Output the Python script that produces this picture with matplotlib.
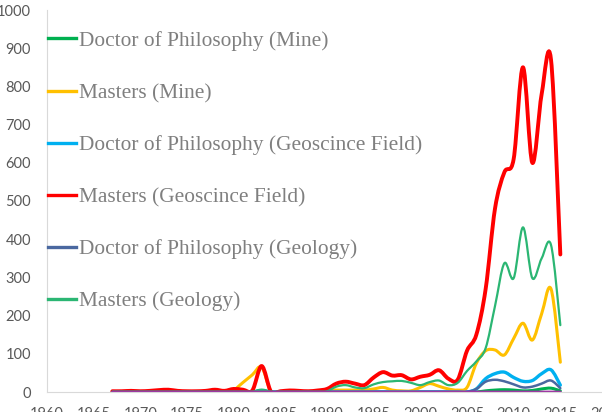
import matplotlib
matplotlib.use("Agg")
import matplotlib.pyplot as plt
from matplotlib.path import Path
from matplotlib.patches import PathPatch
from matplotlib.lines import Line2D

years = list(range(1967, 2016))

# one value per year, 1967..2015
phd_mine = [0, 0, 0, 0, 0, 0, 0, 0, 0, 0, 0, 0, 0, 0, 0, 0, 5, 0, 0, 0,
            0, 0, 0, 0, 0, 0, 0, 0, 0, 0, 0, 0, 0, 0, 0, 0, 0, 0, 0, 0,
            3, 5, 6, 5, 3, 4, 8, 10, 3]
masters_mine = [0, 0, 0, 0, 0, 0, 0, 0, 0, 0, 0, 0, 0, 5, 25, 45, 65, 0, 1, 1,
                1, 1, 1, 5, 5, 5, 5, 5, 8, 12, 5, 3, 3, 12, 22, 15, 8, 5, 12, 75,
                108, 110, 97, 140, 180, 136, 205, 270, 78]
phd_geosc = [0, 0, 0, 0, 0, 0, 0, 0, 0, 0, 0, 0, 0, 0, 0, 0, 3, 0, 0, 0,
             0, 0, 0, 0, 0, 0, 0, 0, 0, 0, 0, 0, 0, 0, 0, 0, 0, 0, 0, 8,
             35, 48, 52, 38, 28, 30, 48, 58, 18]
masters_geosc = [2, 2, 3, 2, 3, 5, 6, 3, 2, 2, 3, 6, 3, 8, 6, 4, 68, 1, 2, 4,
                 3, 2, 4, 8, 22, 27, 22, 18, 38, 52, 43, 44, 33, 40, 45, 57, 35, 32, 108, 150,
                 270, 480, 575, 610, 850, 600, 780, 870, 360]
phd_geology = [0, 0, 0, 0, 0, 0, 0, 0, 0, 0, 0, 0, 0, 0, 0, 0, 0, 0, 0, 0,
               0, 0, 0, 0, 0, 0, 0, 0, 0, 0, 0, 0, 0, 0, 0, 0, 0, 0, 0, 8,
               27, 32, 28, 20, 12, 14, 22, 30, 10]
masters_geology = [1, 1, 1, 1, 1, 1, 1, 1, 1, 1, 1, 1, 1, 1, 1, 1, 5, 1, 1, 1,
                   1, 1, 1, 2, 14, 18, 12, 10, 20, 26, 28, 29, 24, 18, 26, 30, 18, 24, 55, 80,
                   115, 225, 337, 298, 431, 298, 350, 385, 175]
other = [0] * len(years)

labels = ["Doctor of Philosophy (Mine)", "Masters (Mine)",
          "Doctor of Philosophy (Geoscince Field)", "Masters (Geoscince Field)",
          "Doctor of Philosophy (Geology)", "Masters (Geology)"]
series = [phd_mine, masters_mine, phd_geosc, masters_geosc, phd_geology, masters_geology]
colors = ["#00b050", "#ffc000", "#00b0f0", "#ff0000", "#4a68a0", "#2bb673"]
widths = [2.2, 2.2, 2.4, 2.8, 1.8, 1.6]

x_ticks = list(range(1960, 2021, 5))
y_ticks = list(range(0, 1001, 100))


def smooth(ax, x, y, color, lw):
    # excel-like smoothed line: cubic bezier through every point
    n = len(x)
    verts = [(x[0], y[0])]
    codes = [Path.MOVETO]
    for i in range(n - 1):
        a = i - 1 if i > 0 else i
        d = i + 2 if i + 2 < n else i + 1
        c1 = (x[i] + (x[i + 1] - x[a]) / 6, y[i] + (y[i + 1] - y[a]) / 6)
        c2 = (x[i + 1] - (x[d] - x[i]) / 6, y[i + 1] - (y[d] - y[i]) / 6)
        verts += [c1, c2, (x[i + 1], y[i + 1])]
        codes += [Path.CURVE4] * 3
    ax.add_patch(PathPatch(Path(verts, codes), fill=False, edgecolor=color,
                           lw=lw, capstyle="round", joinstyle="round"))


fig = plt.figure(figsize=(6.02, 4.12), dpi=100)
ax = fig.add_axes([47 / 602, 1 - 392 / 412, 560 / 602, 382 / 412])

for s, c, w in zip(series, colors, widths):
    smooth(ax, years, s, c, w)
smooth(ax, years, other, "#9b30a0", 2.0)

ax.set_xlim(1960, 2020)
ax.set_ylim(0, 1000)
ax.set_xticks(x_ticks)
ax.set_yticks(y_ticks)
ax.tick_params(length=0, labelsize=10.5, colors="#595959", labelfontfamily="Lato")
ax.tick_params(axis="y", pad=11.5)
ax.tick_params(axis="x", pad=11)
for side in ["top", "right"]:
    ax.spines[side].set_visible(False)
ax.spines["left"].set_color("#d9d9d9")
ax.spines["bottom"].set_color("#d9d9d9")

handles = [Line2D([], [], color=c, lw=2.4) for c in colors]
ax.legend(handles, labels, loc="upper left", bbox_to_anchor=(0.002, 0.945),
          frameon=False, borderpad=0, borderaxespad=0, handlelength=1.3,
          handletextpad=0.15, labelspacing=1.5, labelcolor="#7f7f7f",
          prop={"family": "Liberation Serif", "size": 15.4})

fig.savefig("out.png", dpi=100)
